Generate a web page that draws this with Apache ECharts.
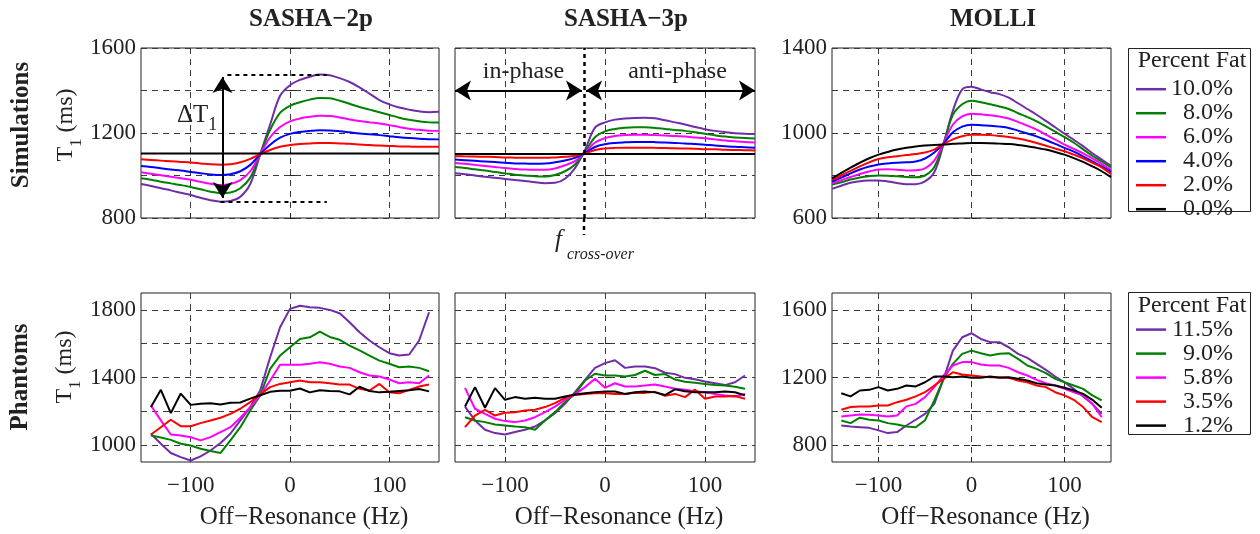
<!DOCTYPE html>
<html><head><meta charset="utf-8">
<script src="https://cdn.jsdelivr.net/npm/echarts@6/dist/echarts.min.js"></script>
<style>html,body{margin:0;padding:0;background:#fff}#c{width:1260px;height:534px}</style>
</head><body><div id="c"></div>
<script>
const FONT = 'Liberation Serif';

// ---------- x values ----------
const simX = [-150,-140,-130,-120,-110,-100,-90,-80,-70,-60,-50,-40,-30,-20,-10,0,10,20,30,40,50,60,70,80,90,100,110,120,130,140,150];
const phX  = [-140,-130,-120,-110,-100,-90,-80,-70,-60,-50,-40,-30,-20,-10,0,10,20,30,40,50,60,70,80,90,100,110,120,130,140];

// ---------- legend names / colours ----------
const simNames = ['10.0%','8.0%','6.0%','4.0%','2.0%','0.0%'];
const phNames  = ['11.5%','9.0%','5.8%','3.5%','1.2%'];
const simColors = ['#6F2DA8','#008000','#FF00FF','#0000FF','#FF0000','#000000'];
const phColors  = ['#6F2DA8','#008000','#FF00FF','#FF0000','#000000'];

// ---------- Simulations: SASHA-2p ----------
const s2p_100 = [960,951,940,930,919,908,895,884,877,880,900,960,1100,1240,1375,1425,1450,1465,1475,1472,1458,1440,1415,1385,1355,1335,1320,1310,1302,1298,1300];
const s2p_80  = [987,980,971,963,955,946,935,924,917,920,940,990,1100,1215,1295,1328,1345,1357,1365,1363,1352,1338,1322,1310,1298,1285,1272,1262,1255,1250,1249];
const s2p_60  = [1015,1008,1001,994,987,980,970,961,955,960,978,1020,1100,1180,1228,1255,1268,1276,1281,1280,1273,1264,1256,1250,1245,1237,1228,1220,1215,1211,1210];
const s2p_40  = [1045,1040,1034,1028,1023,1017,1011,1005,1002,1006,1020,1050,1100,1145,1178,1196,1205,1210,1213,1212,1208,1203,1198,1194,1190,1185,1180,1176,1173,1171,1170];
const s2p_20  = [1076,1073,1070,1067,1064,1061,1057,1053,1051,1053,1062,1078,1100,1120,1135,1143,1148,1151,1153,1153,1151,1149,1146,1143,1141,1139,1137,1136,1135,1135,1135];
const s2p_00  = [1103,1103,1103,1103,1103,1103,1103,1103,1103,1103,1103,1103,1103,1103,1103,1103,1103,1103,1103,1103,1103,1103,1103,1103,1103,1103,1103,1103,1103,1103,1103];

// ---------- Simulations: SASHA-3p ----------
const s3p_100 = [1011,1006,1000,994,989,984,979,974,968,964,966,985,1035,1120,1225,1250,1263,1268,1271,1272,1269,1260,1250,1240,1228,1218,1210,1204,1199,1196,1195];
const s3p_80  = [1040,1035,1029,1023,1016,1010,1004,1000,996,995,1002,1020,1052,1112,1180,1208,1219,1225,1227,1227,1224,1219,1214,1210,1203,1196,1189,1183,1179,1176,1174];
const s3p_60  = [1059,1055,1050,1045,1040,1035,1031,1028,1027,1027,1033,1048,1068,1108,1155,1176,1186,1190,1192,1192,1190,1188,1186,1183,1179,1175,1170,1165,1161,1158,1155];
const s3p_40  = [1075,1072,1069,1066,1063,1060,1057,1056,1055,1056,1062,1071,1083,1106,1134,1147,1153,1156,1158,1158,1157,1155,1153,1151,1148,1145,1141,1138,1135,1133,1131];
const s3p_20  = [1091,1090,1089,1088,1087,1085,1084,1083,1083,1083,1085,1088,1093,1104,1120,1127,1130,1131,1131,1131,1130,1129,1128,1127,1126,1124,1123,1121,1120,1119,1118];
const s3p_00  = [1101,1101,1101,1101,1101,1101,1101,1101,1101,1101,1101,1101,1101,1101,1101,1101,1101,1101,1101,1101,1101,1101,1101,1101,1101,1101,1101,1101,1101,1101,1101];

// ---------- Simulations: MOLLI ----------
const mol_100 = [737,752,766,773,776,777,772,765,759,759,772,815,948,1105,1205,1218,1205,1192,1183,1166,1140,1113,1086,1057,1027,997,968,938,905,875,845];
const mol_80  = [757,768,781,791,797,800,799,796,793,792,800,840,952,1085,1135,1152,1145,1135,1125,1113,1093,1075,1055,1031,1006,981,954,923,893,866,838];
const mol_60  = [765,778,793,807,819,828,829,827,824,825,834,870,952,1040,1078,1091,1088,1083,1077,1068,1052,1035,1016,992,969,945,925,904,880,855,825];
const mol_40  = [772,790,810,828,842,852,857,860,862,866,880,908,950,1003,1030,1039,1037,1034,1030,1024,1011,998,984,967,949,930,912,890,866,843,817];
const mol_20  = [779,800,822,843,862,878,886,891,896,901,908,922,948,970,985,992,992,990,986,981,974,965,953,940,927,914,898,881,860,838,807];
const mol_00  = [787,812,837,860,881,898,911,922,931,937,941,944,946,949,951,953,953,952,950,948,944,938,930,922,911,898,882,864,843,820,792];

// ---------- Phantoms: SASHA-2p ----------
const p2p_115 = [1067,1008,953,929,909,933,968,1012,1067,1146,1225,1323,1520,1697,1806,1825,1816,1812,1800,1780,1727,1668,1619,1579,1544,1530,1536,1619,1786];
const p2p_90  = [1057,1045,1031,1008,998,978,965,953,1028,1106,1205,1294,1451,1530,1579,1628,1638,1672,1640,1623,1589,1560,1530,1500,1481,1461,1465,1457,1437];
const p2p_58  = [1234,1146,1063,1057,1047,1028,1047,1077,1106,1162,1225,1294,1382,1475,1475,1475,1481,1490,1481,1465,1457,1431,1412,1406,1388,1366,1372,1366,1412];
const p2p_35  = [1063,1106,1150,1112,1112,1130,1146,1162,1185,1215,1254,1300,1343,1362,1372,1382,1372,1372,1366,1358,1358,1333,1323,1362,1313,1307,1327,1347,1358];
const p2p_12  = [1225,1327,1189,1305,1238,1245,1248,1240,1250,1252,1275,1295,1315,1322,1322,1335,1312,1325,1320,1318,1300,1345,1320,1312,1315,1320,1325,1332,1318];

// ---------- Phantoms: SASHA-3p ----------
const p3p_115 = [1228,1146,1091,1071,1063,1077,1091,1110,1146,1189,1244,1313,1386,1457,1485,1502,1457,1465,1465,1455,1428,1420,1398,1390,1376,1366,1355,1372,1412];
const p3p_90  = [1165,1146,1136,1122,1116,1110,1106,1091,1146,1195,1254,1303,1382,1422,1412,1412,1406,1415,1440,1415,1420,1388,1375,1369,1362,1356,1353,1345,1333];
const p3p_58  = [1339,1215,1185,1156,1142,1136,1146,1165,1195,1228,1268,1300,1343,1392,1339,1366,1347,1347,1353,1358,1347,1333,1327,1319,1313,1303,1294,1288,1303];
const p3p_35  = [1106,1175,1209,1175,1191,1195,1205,1209,1225,1248,1280,1297,1303,1307,1307,1303,1303,1309,1309,1315,1292,1303,1284,1328,1274,1288,1288,1290,1274];
const p3p_12  = [1228,1343,1221,1337,1268,1284,1274,1280,1274,1274,1288,1300,1307,1313,1317,1317,1303,1313,1317,1312,1296,1330,1319,1313,1313,1313,1317,1313,1294];

// ---------- Phantoms: MOLLI ----------
const pmo_115 = [916,910,906,902,887,871,877,916,950,985,1044,1192,1359,1438,1462,1428,1409,1409,1379,1340,1316,1281,1245,1206,1172,1133,1088,1044,985];
const pmo_90  = [946,930,962,950,946,930,922,910,906,946,1064,1192,1281,1340,1359,1344,1330,1340,1344,1310,1271,1251,1226,1192,1172,1153,1133,1094,1064];
const pmo_58  = [969,975,981,979,975,969,975,1029,1044,1084,1143,1212,1271,1291,1291,1277,1271,1271,1257,1231,1212,1186,1166,1153,1133,1113,1094,1044,965];
const pmo_35  = [1009,1025,1029,1029,1034,1034,1054,1068,1088,1113,1153,1192,1231,1218,1212,1206,1202,1202,1198,1182,1172,1153,1143,1113,1094,1068,1025,965,936];
const pmo_12  = [1107,1088,1123,1127,1143,1123,1133,1153,1147,1172,1206,1206,1202,1206,1198,1198,1206,1198,1202,1192,1182,1166,1158,1153,1139,1123,1103,1068,1021];

// ---------- ticks ----------
const panelTitles = ['SASHA\u22122p','SASHA\u22123p','MOLLI'];
const xTicks = [-100, 0, 100];
const xRange = [-150, 150];
const yRanges = [[800,1600],[800,1600],[600,1400],[900,1900],[900,1900],[700,1700]];
const yTicks  = [[800,1000,1200,1400,1600],[800,1000,1200,1400,1600],[600,800,1000,1200,1400],
                 [1000,1200,1400,1600,1800],[1000,1200,1400,1600,1800],[800,1000,1200,1400,1600]];
const yLabels = [[800,1200,1600],[],[600,1000,1400],[1000,1400,1800],[],[800,1200,1600]];

const simSets = [[s2p_100,s2p_80,s2p_60,s2p_40,s2p_20,s2p_00],[s3p_100,s3p_80,s3p_60,s3p_40,s3p_20,s3p_00],[mol_100,mol_80,mol_60,mol_40,mol_20,mol_00]];
const phSets  = [[p2p_115,p2p_90,p2p_58,p2p_35,p2p_12],[p3p_115,p3p_90,p3p_58,p3p_35,p3p_12],[pmo_115,pmo_90,pmo_58,pmo_35,pmo_12]];

const grids = [
  {left:141, top:48, width:298, height:170},
  {left:455, top:48, width:300, height:170},
  {left:832, top:48, width:279, height:170},
  {left:141, top:293, width:298, height:169},
  {left:455, top:293, width:300, height:169},
  {left:832, top:293, width:279, height:169}
].map(g => Object.assign(g, {show:true, borderColor:'#222', borderWidth:1, backgroundColor:'rgba(0,0,0,0)', containLabel:false, outerBoundsMode:'none'}));

const gridLine = {show:true, lineStyle:{color:'#3a3a3a', type:[6,5], width:1}};
const xAxes = grids.map((g, i) => ({
  type:'value', gridIndex:i, min:xRange[0], max:xRange[1],
  axisLine:{show:false},
  axisTick:{show:true, inside:true, length:5, customValues:xTicks, lineStyle:{color:'#222'}},
  axisLabel:{show:i>=3, customValues:xTicks, margin:12, fontFamily:FONT, fontSize:23, color:'#222',
    formatter: v => String(v).replace('-', '\u2212')},
  splitLine:gridLine,
  name: i>=3 ? 'Off\u2212Resonance (Hz)' : '', nameLocation:'middle', nameGap:43,
  nameTextStyle:{fontFamily:FONT, fontSize:25, color:'#222', padding:[0,0,0,28]}
}));
const yAxes = grids.map((g, i) => ({
  type:'value', gridIndex:i, min:yRanges[i][0], max:yRanges[i][1],
  axisLine:{show:false},
  axisTick:{show:true, inside:true, length:5, customValues:yTicks[i], lineStyle:{color:'#222'}},
  axisLabel:{show:yLabels[i].length>0, customValues:yLabels[i].length?yLabels[i]:yTicks[i], margin:5,
    fontFamily:FONT, fontSize:23, color:'#222', formatter: v => String(v)},
  splitLine:gridLine
}));

const series = [];
function addLine(name, color, xs, ys, idx, smooth, extra) {
  series.push(Object.assign({
    type:'line', name, xAxisIndex:idx, yAxisIndex:idx,
    data: xs.map((x, k) => [x, ys[k]]),
    showSymbol:false, symbol:'none', smooth: smooth, clip:true,
    lineStyle:{color, width:2}, itemStyle:{color},
    emphasis:{disabled:true}, animation:false
  }, extra || {}));
}
const dotted = {color:'#000', type:[4,4], width:2};
const solid = {color:'#000', type:'solid', width:2};
const AS = [15,16];
const annot = [
  { // SASHA-2p: Delta T1 arrow and dotted guides
    silent:true, animation:false, symbol:['none','none'], label:{show:false}, emphasis:{disabled:true},
    data:[
      [{coord:[-68, 894], symbol:'arrow', symbolSize:AS, lineStyle:solid}, {coord:[-68, 1463], symbol:'arrow', symbolSize:AS}],
      [{coord:[-70, 875], lineStyle:dotted}, {coord:[37, 875]}],
      [{coord:[-63, 1475], lineStyle:dotted}, {coord:[37, 1475]}]
    ]
  },
  { // SASHA-3p: cross-over line and phase arrows
    silent:true, animation:false, symbol:['none','none'], label:{show:false}, emphasis:{disabled:true},
    data:[
      {xAxis:-21, lineStyle:{color:'#000', type:[4,4], width:2.5}},
      [{coord:[-150, 1400], symbol:'arrow', symbolSize:AS, lineStyle:solid}, {coord:[-23, 1400], symbol:'arrow', symbolSize:AS}],
      [{coord:[-19, 1400], symbol:'arrow', symbolSize:AS, lineStyle:solid}, {coord:[150, 1400], symbol:'arrow', symbolSize:AS}]
    ]
  }
];
for (let p = 0; p < 3; p++) {
  simSets[p].forEach((ys, k) => addLine(simNames[k], simColors[k], simX, ys, p, 0.35,
    (k === 5 && p < 2) ? {markLine: annot[p]} : null));
  phSets[p].forEach((ys, k) => addLine(phNames[k], phColors[k], phX, ys, p + 3, false));
}

const legendText = lh => ({fontFamily:FONT, fontSize:24, color:'#222',
  rich:{a:{width:62, align:'right', fontFamily:FONT, fontSize:24, lineHeight:lh, color:'#222'}}});
const legends = [
  {data:simNames, orient:'vertical', left:1136, top:77.2, padding:0, itemGap:0, itemWidth:30, itemHeight:2.5, icon:'rect',
   selectedMode:false, formatter: n => '{a|' + n + '}', textStyle: legendText(21.6)},
  {data:phNames, orient:'vertical', left:1136, top:317.6, padding:0, itemGap:0, itemWidth:30, itemHeight:2.5, icon:'rect',
   selectedMode:false, formatter: n => '{a|' + n + '}', textStyle: legendText(22.7)}
];

const chart = echarts.init(document.getElementById('c'), null, {renderer:'canvas'});
chart.setOption({
  animation:false, backgroundColor:'#fff',
  grid:grids, xAxis:xAxes, yAxis:yAxes, series, legend:legends
});

// ---------- text & frames ----------
const txt = (x, y, text, font, opts) => Object.assign({
  type:'text', x, y, silent:true,
  style:{text, font, fill:'#222', align:'center', verticalAlign:'middle'}
}, opts || {});
const richT1 = (size) => ({
  a:{fontFamily:FONT, fontSize:size, lineHeight:38, fill:'#222', verticalAlign:'middle'},
  b:{fontFamily:FONT, fontSize:Math.round(size*0.7), lineHeight:17, fill:'#222', verticalAlign:'bottom'}
});
const xc = chart.convertToPixel({xAxisIndex:1}, -21);
const yb = chart.convertToPixel({yAxisIndex:1}, 800);

const graphics = [
  txt(311, 19.5, panelTitles[0], 'bold 25px "Liberation Serif"'),
  txt(626, 19.5, panelTitles[1], 'bold 25px "Liberation Serif"'),
  txt(993, 19.5, panelTitles[2], 'bold 25px "Liberation Serif"'),
  txt(22, 125, 'Simulations', 'bold 25px "Liberation Serif"', {rotation:Math.PI/2}),
  txt(21, 377, 'Phantoms', 'bold 25px "Liberation Serif"', {rotation:Math.PI/2}),
  {type:'text', x:66, y:125, rotation:Math.PI/2, silent:true,
   style:{text:'{a|T}{b|1}{a| (ms)}', rich:richT1(24), align:'center', verticalAlign:'middle'}},
  {type:'text', x:65, y:367, rotation:Math.PI/2, silent:true,
   style:{text:'{a|T}{b|1}{a| (ms)}', rich:richT1(24), align:'center', verticalAlign:'middle'}},
  {type:'text', x:177, y:115, silent:true,
   style:{text:'{a|\u0394T}{b|1}', rich:richT1(25), align:'left', verticalAlign:'middle'}},
  txt(523.5, 72, 'in-phase', '24px "Liberation Serif"'),
  txt(677.5, 72, 'anti-phase', '24px "Liberation Serif"'),
  txt(555, 240, 'f', '', {style:{text:'f', font:'italic 25px "Liberation Serif"', fill:'#222', align:'left', verticalAlign:'middle'}}),
  txt(567, 254.5, 'cross-over', '', {style:{text:'cross-over', font:'italic 16px "Liberation Serif"', fill:'#222', align:'left', verticalAlign:'middle'}}),
  {type:'line', silent:true, shape:{x1:xc, y1:yb, x2:xc, y2:yb+17}, style:{stroke:'#000', lineWidth:2.5, lineDash:[4,4]}},
  {type:'rect', silent:true, shape:{x:1128.5, y:48.5, width:122, height:163}, style:{fill:'rgba(0,0,0,0)', stroke:'#222', lineWidth:1}},
  {type:'rect', silent:true, shape:{x:1128.5, y:292.5, width:122, height:142}, style:{fill:'rgba(0,0,0,0)', stroke:'#222', lineWidth:1}},
  txt(1192, 61, 'Percent Fat', '24px "Liberation Serif"'),
  txt(1192, 305.5, 'Percent Fat', '24px "Liberation Serif"')
];
chart.setOption({graphic: graphics});
</script>
</body></html>
